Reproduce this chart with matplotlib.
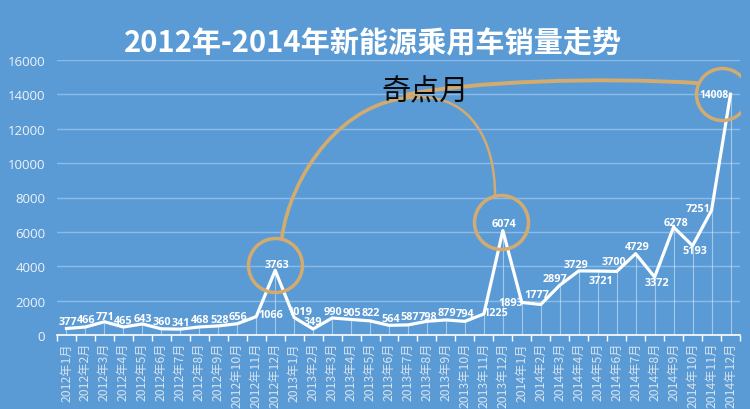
import numpy as np
import matplotlib.pyplot as plt
from matplotlib.path import Path
from matplotlib.patches import PathPatch

# monthly sales of new-energy passenger cars
years = [2012, 2013, 2014]
months = [f"{y}年{m}月" for y in years for m in range(1, 13)]
sales_2012 = [377, 466, 771, 465, 643, 360, 341, 468, 528, 656, 1066, 3763]
sales_2013 = [1019, 349, 990, 905, 822, 564, 587, 798, 879, 794, 1225, 6074]
sales_2014 = [1893, 1777, 2897, 3729, 3721, 3700, 4729, 3372, 6278, 5193, 7251, 14008]
sales = sales_2012 + sales_2013 + sales_2014

title = "2012年-2014年新能源乘用车销量走势"
note = "奇点月"

# label offsets in pixels (dx, dy up)
lab_off = [(1, 7), (1, 7), (1, 5), (0, 7), (0, 5), (1, 7), (1, 7), (1, 7), (1, 6), (1, 7),
           (15, 2), (2, 6), (6, 6), (0, 8), (1, 6), (1, 7), (1, 8), (2, 7), (2, 8), (1, 5),
           (1, 7), (0, 8), (12, 1), (1, 7), (-11, 0), (-4, 10), (-5, 7), (-3, 6), (3, -9), (-3, 10),
           (2, 7), (2, -5), (2, 5), (2, -5), (-13, 2), (-17, 0)]

bg = "#5B9BD5"
tan = "#D3AB6E"
px = 0.72  # points per pixel at dpi 100

fig = plt.figure(figsize=(7.5, 4.1), dpi=100, facecolor=bg)
ax = fig.add_axes([57/750, 1-336/410, 683/750, 275/410], facecolor=bg)

x = np.arange(len(sales))
ax.vlines(x, 0, sales, color="white", alpha=0.45, lw=0.8, zorder=2)
ax.plot(x, sales, color="white", lw=2.3, zorder=3)

ax.set_xlim(-0.5, len(sales)-0.5)
ax.set_ylim(0, 16000)
ax.set_yticks(np.arange(0, 16001, 2000))
ax.grid(axis="y", color="#8DBBE6", lw=1)
ax.set_axisbelow(True)
for s in ["top", "right", "left"]:
    ax.spines[s].set_visible(False)
ax.spines["bottom"].set_color("white")
ax.spines["bottom"].set_linewidth(1.2)

ax.tick_params(axis="y", length=0, pad=8.5, labelcolor="#EEF3F9")
for t in ax.get_yticklabels():
    t.set_family(["Open Sans", "DejaVu Sans"])
    t.set_fontsize(9.5)
ax.set_xticks(x)
ax.set_xticklabels(months, rotation=90, fontsize=8.8, color="#D8E3EF",
                   family=["Noto Sans CJK SC", "DejaVu Sans"])
ax.set_xticks(np.arange(-0.5, len(sales), 1), minor=True)
ax.tick_params(axis="x", which="major", length=0, pad=5)
ax.tick_params(axis="x", which="minor", length=4, color="white", width=1)

for i, v in enumerate(sales):
    dx, dy = lab_off[i]
    ax.annotate(str(v), (i, v), xytext=(dx*px, dy*px), textcoords="offset points",
                ha="center", va="center", color="white", fontsize=7.4 if v > 10000 else 7.8,
                weight="bold", family=["Open Sans", "DejaVu Sans"], zorder=6)

# highlight circles around the "singular" months
circ_x = [11, 22.9, 34.56]
circ_y = [4072, 6574, 14020]
circ_r = [27, 27, 26]
for cx, cy, r in zip(circ_x, circ_y, circ_r):
    ax.plot(cx, cy, marker="o", ms=2*r*px, mfc="none", mec=tan, mew=2.5, zorder=5)

C = Path.CURVE4
arc1 = Path([(11.36, 5701), (11.78, 9075), (14.42, 13845), (18.64, 13845)],
            [Path.MOVETO, C, C, C])
arc2 = Path([(18.64, 13845), (21.27, 13845), (22.59, 11402), (22.59, 8086)],
            [Path.MOVETO, C, C, C])
arc3 = Path([(17.84, 13962), (21.27, 14776), (28.12, 15009), (33.24, 14660)],
            [Path.MOVETO, C, C, C])
ax.add_patch(PathPatch(arc1, fc="none", ec=tan, lw=2.6, capstyle="round", zorder=4))
ax.add_patch(PathPatch(arc2, fc="none", ec=tan, lw=1.8, capstyle="round", zorder=4))
ax.add_patch(PathPatch(arc3, fc="none", ec=tan, lw=2.8, capstyle="round", zorder=4))

ax.text(18.9, 14196, note, ha="center", va="center", fontsize=21, color="#0A0A0A",
        family=["Noto Sans CJK SC", "DejaVu Sans"], zorder=7)

fig.text(373/750, 1-42/410, title, ha="center", va="center", fontsize=21, weight="bold",
         color="white", family=["Noto Sans CJK SC", "DejaVu Sans"])

fig.savefig("out.png", dpi=100, facecolor=bg)
